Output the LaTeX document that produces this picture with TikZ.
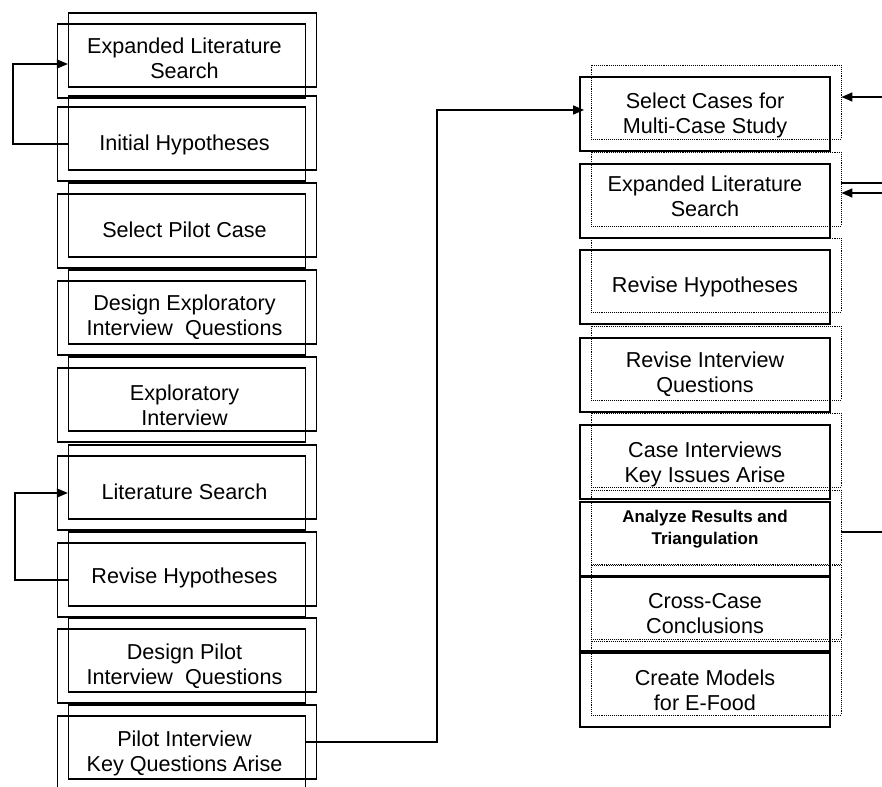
\documentclass[tikz,border=0pt]{standalone}
\usepackage{fontspec}
\setmainfont{Liberation Sans}
\usetikzlibrary{arrows.meta}
\begin{document}
\begin{tikzpicture}[x=1pt,y=-1pt,
  lrect/.style={draw, line width=1.3pt, minimum width=248pt, minimum height=74pt, inner sep=0pt},
  rsolid/.style={draw, line width=1.9pt, minimum width=250pt, minimum height=74pt, inner sep=0pt},
  rdot/.style={draw, line width=0.9pt, densely dotted, minimum width=250pt, minimum height=74pt, inner sep=0pt},
  lbl/.style={align=center, inner sep=0pt, font=\fontsize{21.6}{25}\selectfont},
  lblsmall/.style={align=center, inner sep=0pt, font=\fontsize{17}{22}\selectfont\bfseries},
  link/.style={line width=1.5pt},
  arr/.style={link, -{Triangle[length=11pt,width=9pt]}}]
\useasboundingbox (0,0) rectangle (882,786);

% ---- left column: pilot phase (each step is a pair of offset frames) ----
\node[lrect] (l1a) at (192.5,50) {};  \node[lrect] (l1b) at (181.5,61) {};
\node[lrect] (l2a) at (192.5,133) {}; \node[lrect] (l2b) at (181.5,144) {};
\node[lrect] (l3a) at (192.5,220) {}; \node[lrect] (l3b) at (181.5,231) {};
\node[lrect] (l4a) at (192.5,307) {}; \node[lrect] (l4b) at (181.5,318) {};
\node[lrect] (l5a) at (192.5,394) {}; \node[lrect] (l5b) at (181.5,405) {};
\node[lrect] (l6a) at (192.5,482) {}; \node[lrect] (l6b) at (181.5,493) {};
\node[lrect] (l7a) at (192.5,569) {}; \node[lrect] (l7b) at (181.5,580) {};
\node[lrect] (l8a) at (192.5,655) {}; \node[lrect] (l8b) at (181.5,666) {};
\node[lrect] (l9a) at (192.5,742) {}; \node[lrect] (l9b) at (181.5,753) {};

\node[lbl] (l1) at (184.5,58)  {Expanded Literature\\Search};
\node[lbl] (l2) at (184.5,145) {Initial Hypotheses};
\node[lbl] (l3) at (184.5,230) {Select Pilot Case};
\node[lbl] (l4) at (184.5,317) {Design Exploratory\\Interview~~Questions};
\node[lbl] (l5) at (184.5,405) {Exploratory\\Interview};
\node[lbl] (l6) at (184.5,492) {Literature Search};
\node[lbl] (l7) at (184.5,578) {Revise Hypotheses};
\node[lbl] (l8) at (184.5,666) {Design Pilot\\Interview~~Questions};
\node[lbl] (l9) at (184.5,753) {Pilot Interview\\Key Questions Arise};

% ---- right column: multi-case phase ----
\node[rdot] (r1c) at (716,102) {}; \node[rsolid] (r1d) at (705,114) {};
\node[rdot] (r2c) at (716,189) {}; \node[rsolid] (r2d) at (705,201) {};
\node[rdot] (r3c) at (716,275) {}; \node[rsolid] (r3d) at (705,287) {};
\node[rdot] (r4c) at (716,363) {}; \node[rsolid] (r4d) at (705,375) {};
\node[rdot] (r5c) at (716,450) {}; \node[rsolid] (r5d) at (705,462) {};
\node[rdot] (r6c) at (716,527) {}; \node[rsolid] (r6d) at (705,539) {};
\node[rdot] (r7c) at (716,602) {}; \node[rsolid] (r7d) at (705,614) {};
\node[rdot] (r8c) at (716,678) {}; \node[rsolid] (r8d) at (705,690) {};

\node[lbl] (r1) at (705,115) {Select Cases for\\Multi-Case Study};
\node[lbl] (r2) at (705,196) {Expanded Literature\\Search};
\node[lbl] (r3) at (705,287) {Revise Hypotheses};
\node[lbl] (r4) at (705,374) {Revise Interview\\Questions};
\node[lbl] (r5) at (705,464) {Case Interviews\\Key Issues Arise};
\node[lblsmall] (r6) at (705,529) {Analyze Results and\\Triangulation};
\node[lbl] (r7) at (705,614) {Cross-Case\\Conclusions};
\node[lbl] (r8) at (705,690) {Create Models\\for E-Food};

% ---- feedback loops on the left ----
\draw[arr] (l2a.west |- l2b.center) -- ++(-55,0) |- ([yshift=-3pt]l1a.west |- l1b.center);
\draw[arr] (l7a.west |- l7b.center) -- ++(-53,0) |- (l6a.west |- l6b.center);

% ---- pilot results feed the case selection ----
\coordinate (jog) at (437,110);
\draw[arr] (l9b.east |- l9a.center) -| (jog) -- ([xshift=5pt,yshift=4pt]r1d.west);

% ---- links leaving the right edge ----
\coordinate (e1) at (882,97);
\coordinate (e2) at (882,183);
\coordinate (e3) at (882,193);
\coordinate (e4) at (882,532);
\draw[arr] (e1) -- (r1c.east |- e1);
\draw[link] (r2c.east |- e2) -- (e2);
\draw[arr] (e3) -- (r2c.east |- e3);
\draw[link] (r6c.east |- e4) -- (e4);
\end{tikzpicture}
\end{document}
